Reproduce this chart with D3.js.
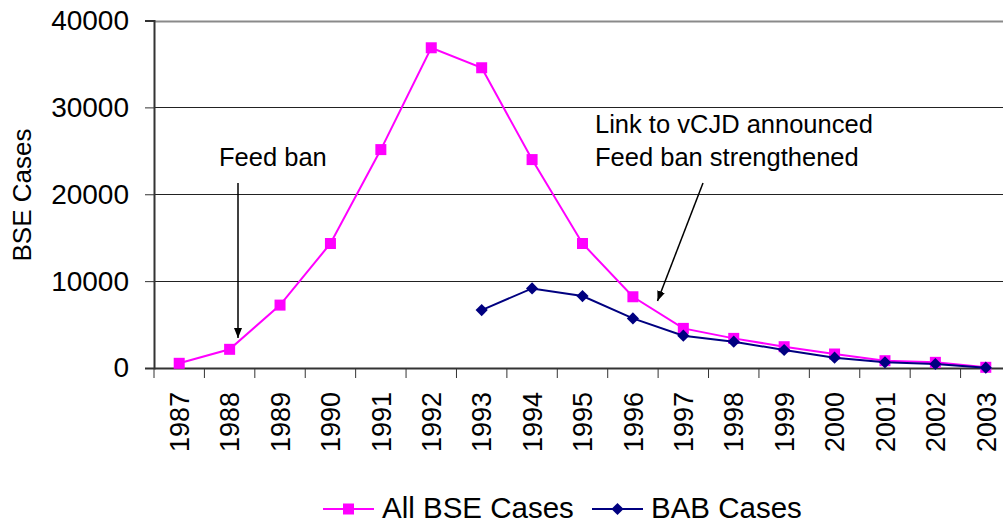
<!DOCTYPE html>
<html>
<head>
<meta charset="utf-8">
<script src="https://cdn.jsdelivr.net/npm/d3@7"></script>
<style>
html,body{margin:0;padding:0;background:#fff;overflow:hidden;}
svg{display:block;font-family:"Liberation Sans",Arial,sans-serif;}
</style>
</head>
<body>
<svg id="chart" width="1003" height="525"></svg>
<script>
const years = ["1987","1988","1989","1990","1991","1992","1993","1994","1995","1996","1997","1998","1999","2000","2001","2002","2003"];
const allBSE = [540, 2150, 7240, 14330, 25140, 36860, 34560, 23990, 14330, 8200, 4560, 3410, 2450, 1610, 840, 650, 80];
const babCases = [null, null, null, null, null, null, 6670, 9160, 8280, 5710, 3720, 3030, 2070, 1190, 650, 460, 40];
const yTicks = [0, 10000, 20000, 30000, 40000];
const seriesNames = ["All BSE Cases", "BAB Cases"];

(function(){
const svg = d3.select("#chart");
const pl = 154, pr = 1011, pt = 20.5, pb = 368;

const x = d3.scaleBand().domain(years).range([pl, pr]);
const y = d3.scaleLinear().domain([0, 40000]).range([pb, pt]);

// gridlines
svg.append("g").selectAll("line").data(yTicks.filter(d => d > 0)).join("line")
  .attr("x1", pl).attr("x2", 1003)
  .attr("y1", d => Math.round(y(d)) + 0.5).attr("y2", d => Math.round(y(d)) + 0.5)
  .attr("stroke", d => d === 40000 ? "#8a8a8a" : "#222")
  .attr("stroke-width", d => d === 40000 ? 2 : 1);

// y axis
const yAxis = d3.axisLeft(y).tickValues(yTicks).tickSize(9).tickPadding(16).tickFormat(d3.format("d"));
const gy = svg.append("g").attr("transform", `translate(${pl},0)`).call(yAxis);
gy.select(".domain").attr("stroke", "#333").attr("stroke-width", 2);
gy.selectAll(".tick line").attr("stroke", "#333");
gy.selectAll("text").attr("font-size", 28).attr("fill", "#000").attr("font-family", "Liberation Sans, Arial, sans-serif");

// x axis
const xAxis = d3.axisBottom(x).tickSize(0).tickSizeOuter(0);
const gx = svg.append("g").attr("transform", `translate(0,${pb})`).call(xAxis);
gx.select(".domain").attr("stroke", "#333").attr("stroke-width", 2);
gx.selectAll(".tick text")
  .attr("font-size", 27).attr("fill", "#000").attr("font-family", "Liberation Sans, Arial, sans-serif")
  .attr("text-anchor", "end")
  .attr("transform", "rotate(-90)")
  .attr("x", -24).attr("y", 0).attr("dy", "0.36em");
// tick marks at band boundaries
const bounds = years.map(d => x(d)).concat([x(years[years.length-1]) + x.bandwidth()]);
svg.append("g").selectAll("line").data(bounds).join("line")
  .attr("x1", d => d).attr("x2", d => d)
  .attr("y1", pb).attr("y2", pb + 10)
  .attr("stroke", "#333").attr("stroke-width", 1);

// y title
svg.append("text").attr("transform", "translate(31,195) rotate(-90)")
  .attr("text-anchor", "middle").attr("font-size", 26).attr("fill", "#000").text("BSE Cases");

const cx = d => x(d) + x.bandwidth() / 2;

// lines
const line = d3.line().defined(d => d[1] != null).x(d => cx(d[0])).y(d => y(d[1]));
const allData = years.map((d, i) => [d, allBSE[i]]);
const babData = years.map((d, i) => [d, babCases[i]]);

svg.append("path").datum(allData).attr("d", line).attr("fill", "none")
  .attr("stroke", "#ff00ff").attr("stroke-width", 2);
svg.append("g").selectAll("rect").data(allData).join("rect")
  .attr("x", d => cx(d[0]) - 5.5).attr("y", d => y(d[1]) - 5.5)
  .attr("width", 11).attr("height", 11).attr("fill", "#ff00ff");

svg.append("path").datum(babData).attr("d", line).attr("fill", "none")
  .attr("stroke", "#000080").attr("stroke-width", 2);
const diamond = d3.symbol().type(d3.symbolDiamond2).size(95);
svg.append("g").selectAll("path").data(babData.filter(d => d[1] != null)).join("path")
  .attr("d", diamond)
  .attr("transform", d => `translate(${cx(d[0])},${y(d[1])})`).attr("fill", "#000080");

// annotations
svg.append("defs").append("marker").attr("id", "arr").attr("viewBox", "0 0 10 10")
  .attr("refX", 10).attr("refY", 5).attr("markerWidth", 10).attr("markerHeight", 10)
  .attr("markerUnits", "userSpaceOnUse").attr("orient", "auto")
  .append("path").attr("d", "M0,1 L10,5 L0,9 Z").attr("fill", "#000");

svg.append("text").attr("x", 219).attr("y", 166).attr("font-size", 25.5).attr("fill", "#000").text("Feed ban");
svg.append("line").attr("x1", 238).attr("y1", 183).attr("x2", 238).attr("y2", 338)
  .attr("stroke", "#000").attr("stroke-width", 1.5).attr("marker-end", "url(#arr)");

svg.append("text").attr("x", 595).attr("y", 133).attr("font-size", 25.5).attr("fill", "#000").text("Link to vCJD announced");
svg.append("text").attr("x", 595).attr("y", 166).attr("font-size", 25.5).attr("fill", "#000").text("Feed ban strengthened");
svg.append("line").attr("x1", 703).attr("y1", 183).attr("x2", 657.5).attr("y2", 301)
  .attr("stroke", "#000").attr("stroke-width", 1.5).attr("marker-end", "url(#arr)");

// legend
const legend = svg.append("g");
const legItems = [
  {name: seriesNames[0], color: "#ff00ff", x1: 323, x2: 374, tx: 382, shape: "square"},
  {name: seriesNames[1], color: "#000080", x1: 592, x2: 643, tx: 651, shape: "diamond"}
];
const ly = 509;
legItems.forEach(it => {
  legend.append("line").attr("x1", it.x1).attr("x2", it.x2).attr("y1", ly).attr("y2", ly)
    .attr("stroke", it.color).attr("stroke-width", 2);
  const mx = (it.x1 + it.x2) / 2;
  if (it.shape === "square") {
    legend.append("rect").attr("x", mx - 5.5).attr("y", ly - 5.5).attr("width", 11).attr("height", 11).attr("fill", it.color);
  } else {
    legend.append("path").attr("d", diamond).attr("transform", `translate(${mx},${ly})`).attr("fill", it.color);
  }
  legend.append("text").attr("x", it.tx).attr("y", 518)
    .attr("font-size", 29.5).attr("fill", "#000").text(it.name);
});
})();
</script>
</body>
</html>
